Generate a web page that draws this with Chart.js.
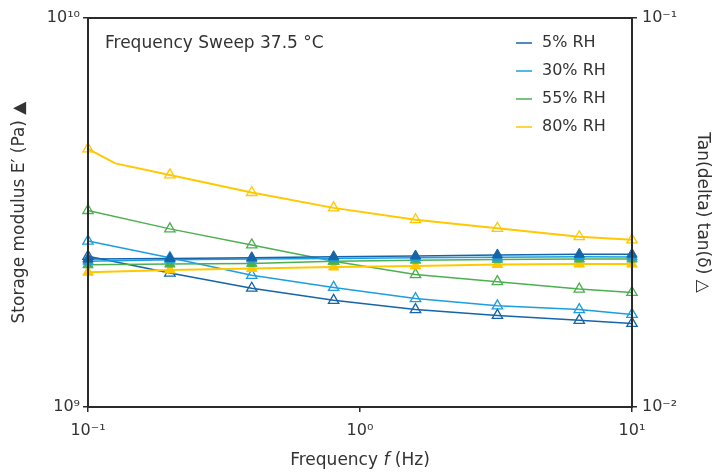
<!DOCTYPE html>
<html>
<head>
<meta charset="utf-8">
<script src="https://cdn.jsdelivr.net/npm/chart.js@4.4.0/dist/chart.umd.min.js"></script>
<style>
  html, body { margin: 0; padding: 0; background: #fff; }
</style>
</head>
<body>
<canvas id="grafico" width="727" height="474"></canvas>
<script>
// Frecuencias medidas (Hz)
const frecuencias = [0.1, 0.2, 0.4, 0.8, 1.6, 3.2, 6.4, 10];
const frecuencias80Tan = [0.1, 0.126, 0.2, 0.4, 0.8, 1.6, 3.2, 6.4, 10];

const series = ['5% RH', '30% RH', '55% RH', '80% RH'];
const colores = ['#1565a8', '#1c9ee0', '#4cb050', '#ffc800'];

// Modulo de almacenamiento E' (Pa)
const modulo5 = [2.40e9, 2.41e9, 2.42e9, 2.435e9, 2.445e9, 2.46e9, 2.47e9, 2.47e9];
const modulo30 = [2.37e9, 2.39e9, 2.40e9, 2.41e9, 2.42e9, 2.425e9, 2.435e9, 2.43e9];
const modulo55 = [2.32e9, 2.33e9, 2.34e9, 2.37e9, 2.385e9, 2.395e9, 2.40e9, 2.40e9];
const modulo80 = [2.22e9, 2.25e9, 2.27e9, 2.29e9, 2.305e9, 2.325e9, 2.33e9, 2.33e9];

// tan(delta)
const tan5 = [0.0244, 0.0221, 0.0202, 0.0188, 0.0178, 0.0172, 0.0167, 0.0164];
const tan30 = [0.0267, 0.0242, 0.0218, 0.0203, 0.0190, 0.0182, 0.0178, 0.0173];
const tan55 = [0.0320, 0.0287, 0.0261, 0.0237, 0.0219, 0.0210, 0.0201, 0.0197];
const tan80 = [0.0461, 0.0423, 0.0395, 0.0356, 0.0325, 0.0303, 0.0288, 0.0274, 0.0269];
const radios80Tan = [6, 0, 6, 6, 6, 6, 6, 6, 6];

// Ticks de los ejes
const xTicks = [0.1, 1, 10];
const xTickLabels = ['10⁻¹', '10⁰', '10¹'];
const yTicks = [1e9, 1e10];
const yTickLabels = ['10⁹', '10¹⁰'];
const y2Ticks = [0.01, 0.1];
const y2TickLabels = ['10⁻²', '10⁻¹'];

const fuente = 'DejaVu Sans';
const colorTexto = '#333333';

function puntos(xs, ys) {
    return xs.map((x, i) => ({ x: x, y: ys[i] }));
}

const modulos = [modulo5, modulo30, modulo55, modulo80];
const tans = [tan5, tan30, tan55, tan80];

const datasets = [];
modulos.forEach((m, i) => {
    datasets.push({
        label: series[i] + " E'",
        data: puntos(frecuencias, m),
        yAxisID: 'y',
        borderColor: colores[i],
        backgroundColor: colores[i],
        borderWidth: i === 3 ? 2 : 1.5,
        pointStyle: 'triangle',
        pointRadius: 6,
        pointBackgroundColor: colores[i],
        pointBorderColor: colores[i],
        pointBorderWidth: 1,
        clip: false
    });
});
tans.forEach((t, i) => {
    const xs = i === 3 ? frecuencias80Tan : frecuencias;
    datasets.push({
        label: series[i] + ' tan',
        data: puntos(xs, t),
        yAxisID: 'y2',
        borderColor: colores[i],
        backgroundColor: colores[i],
        borderWidth: i === 3 ? 2 : 1.5,
        pointStyle: 'triangle',
        pointRadius: i === 3 ? radios80Tan : 6,
        pointBackgroundColor: 'rgba(255,255,255,0)',
        pointBorderColor: colores[i],
        pointBorderWidth: 1.3,
        clip: false
    });
});

// Caja, leyenda, texto y titulo del eje x
const extras = {
    id: 'extras',
    afterDatasetsDraw(chart) {
        const ctx = chart.ctx;
        const a = chart.chartArea;
        ctx.save();
        ctx.strokeStyle = '#2b2b2b';
        ctx.lineWidth = 2;
        ctx.strokeRect(a.left, a.top, a.right - a.left, a.bottom - a.top);

        ctx.fillStyle = colorTexto;
        ctx.font = '17px "' + fuente + '"';
        ctx.textBaseline = 'middle';
        ctx.textAlign = 'left';
        ctx.fillText('Frequency Sweep 37.5 °C', a.left + 17, a.top + 26);

        ctx.font = '16px "' + fuente + '"';
        series.forEach((s, i) => {
            const y = a.top + 25 + i * 28;
            ctx.strokeStyle = colores[i];
            ctx.lineWidth = 1.5;
            ctx.beginPath();
            ctx.moveTo(a.left + 428, y);
            ctx.lineTo(a.left + 444, y);
            ctx.stroke();
            ctx.fillStyle = colorTexto;
            ctx.fillText(s, a.left + 454, y);
        });

        // titulo eje x con f en cursiva
        const partes = [['Frequency ', ''], ['f', 'italic '], [' (Hz)', '']];
        let total = 0;
        partes.forEach(p => {
            ctx.font = p[1] + '17px "' + fuente + '"';
            total += ctx.measureText(p[0]).width;
        });
        let x = (a.left + a.right) / 2 - total / 2;
        partes.forEach(p => {
            ctx.font = p[1] + '17px "' + fuente + '"';
            ctx.fillText(p[0], x, 461);
            x += ctx.measureText(p[0]).width;
        });
        ctx.restore();
    }
};

const ejeComun = {
    type: 'logarithmic',
    grid: { drawOnChartArea: false, drawTicks: true, tickLength: 5, color: '#2b2b2b', lineWidth: 1.5 },
    border: { display: false },
    ticks: { color: colorTexto, font: { family: fuente, size: 16 } }
};

new Chart(document.getElementById('grafico'), {
    type: 'line',
    data: { datasets: datasets },
    plugins: [extras],
    options: {
        responsive: false,
        animation: false,
        layout: { padding: { top: 18, left: 0, right: 0, bottom: 0 } },
        plugins: { legend: { display: false }, tooltip: { enabled: false } },
        scales: {
            x: {
                ...ejeComun,
                position: 'bottom',
                min: 0.1,
                max: 10,
                afterBuildTicks: s => { s.ticks = xTicks.map(v => ({ value: v })); },
                afterFit: s => { s.height = 67; },
                ticks: { ...ejeComun.ticks, padding: 9, maxRotation: 0, callback: (v, i) => xTickLabels[i] }
            },
            y: {
                ...ejeComun,
                position: 'left',
                min: 1e9,
                max: 1e10,
                afterBuildTicks: s => { s.ticks = yTicks.map(v => ({ value: v })); },
                afterFit: s => { s.width = 88; },
                ticks: { ...ejeComun.ticks, padding: 3, callback: (v, i) => yTickLabels[i] },
                title: {
                    display: true,
                    text: 'Storage modulus E′ (Pa) ▲',
                    color: colorTexto,
                    font: { family: fuente, size: 17 },
                    padding: { top: 9, bottom: 0 }
                }
            },
            y2: {
                ...ejeComun,
                position: 'right',
                min: 0.01,
                max: 0.1,
                afterBuildTicks: s => { s.ticks = y2Ticks.map(v => ({ value: v })); },
                afterFit: s => { s.width = 95; },
                ticks: { ...ejeComun.ticks, padding: 5, callback: (v, i) => y2TickLabels[i] },
                title: {
                    display: true,
                    text: 'Tan(delta) tan(δ) △',
                    color: colorTexto,
                    font: { family: fuente, size: 17 },
                    padding: { top: 14, bottom: 0 }
                }
            }
        }
    }
});
</script>
</body>
</html>
